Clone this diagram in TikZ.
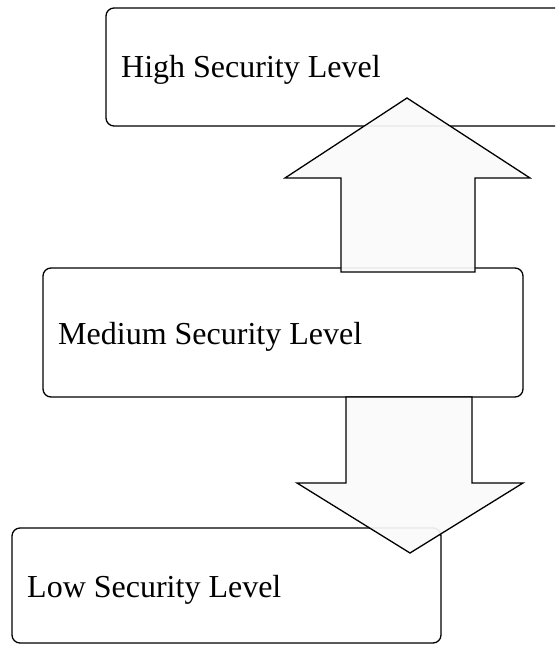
\documentclass[tikz,border=0pt]{standalone}
\usepackage{fontspec}
\setmainfont{Liberation Serif}
\begin{document}
\begin{tikzpicture}[x=1pt,y=-1pt,
  levelbox/.style={draw=black, line width=1.3pt, rounded corners=8pt, fill=white},
  leveltext/.style={anchor=base west, inner sep=0pt, font=\fontsize{32}{38}\selectfont},
  blockarrow/.style={draw=black, line width=1.3pt, line join=miter, fill=black!2, fill opacity=0.93}]
  \useasboundingbox (0,0) rectangle (555,645);
  \clip (0,0) rectangle (555,645);

  % security level boxes
  \draw[levelbox] (106,8) rectangle (575,126);
  \node[leveltext] (high) at (121,77) {High Security Level};

  \draw[levelbox] (43,268) rectangle (523,397);
  \node[leveltext] (medium) at (58,344) {Medium Security Level};

  \draw[levelbox] (12,528) rectangle (441,643);
  \node[leveltext] (low) at (27,597) {Low Security Level};

  % upward block arrow: medium -> high
  \draw[blockarrow] (341,272) -- (341,178) -- (285,178) -- (407,98)
    -- (530,178) -- (475,178) -- (475,272) -- cycle;

  % downward block arrow: medium -> low
  \draw[blockarrow] (346,397) -- (346,483) -- (297,483) -- (410,553)
    -- (523,483) -- (472,483) -- (472,397) -- cycle;
\end{tikzpicture}
\end{document}
